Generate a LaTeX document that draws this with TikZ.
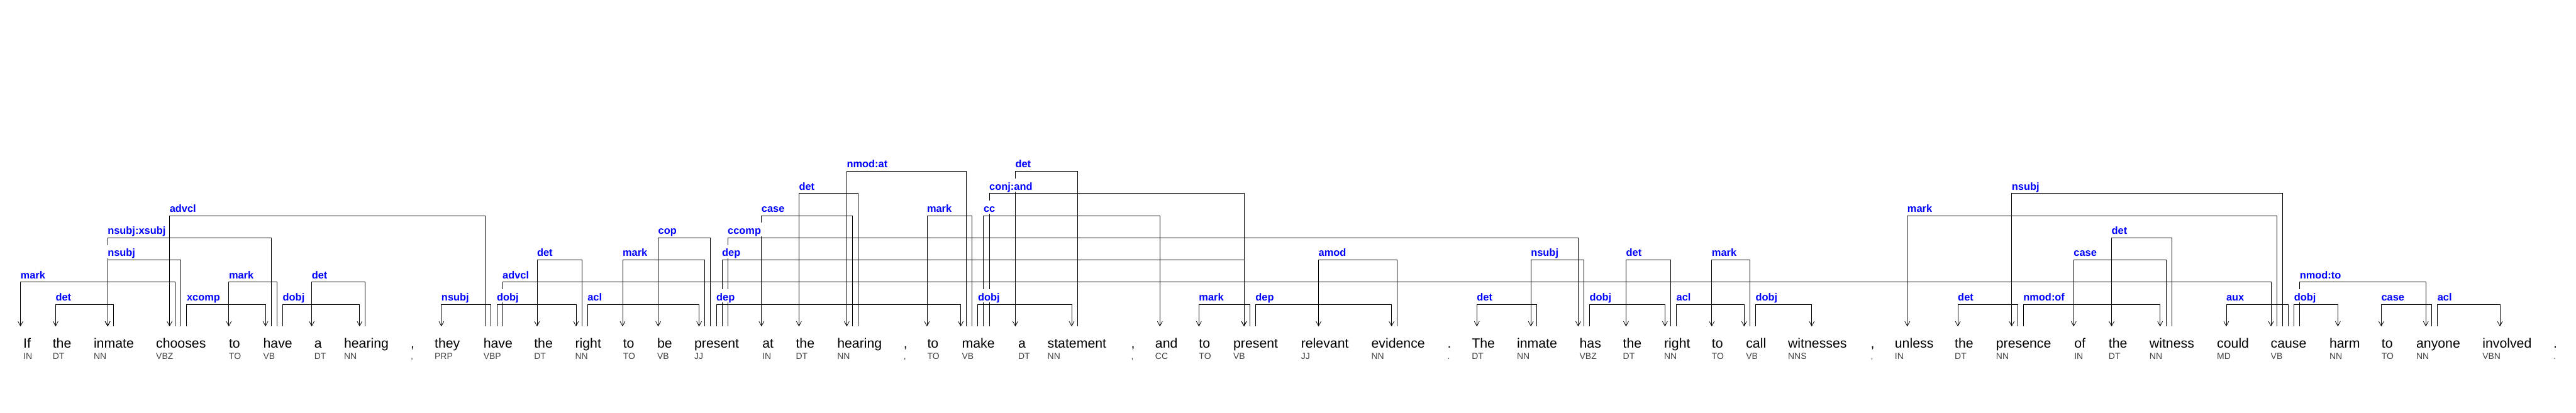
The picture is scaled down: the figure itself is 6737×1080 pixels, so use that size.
\documentclass[tikz,border=0pt]{standalone}
\usepackage{fontspec}
\setmainfont{Liberation Sans}
\usetikzlibrary{arrows.meta}
\pgfdeclarelayer{fg}
\pgfsetlayers{main,fg}
\definecolor{lblblue}{RGB}{0,0,255}
\definecolor{tagc}{RGB}{64,64,64}
\tikzset{
 wordtext/.style={anchor=base west, inner sep=0pt, font=\fontsize{35}{40}\selectfont, text=black},
 tagtext/.style={anchor=base west, inner sep=0pt, font=\fontsize{23}{26}\selectfont, text=tagc},
 deparc/.style={draw=black, line width=1.3pt, -{Straight Barb[length=12pt, width=13pt, line width=1.3pt]}},
 deplabel/.style={anchor=base west, inner xsep=1pt, inner ysep=0pt, xshift=-1pt, fill=white, text=lblblue, font=\fontsize{27}{30}\selectfont\bfseries, text height=30pt, text depth=5pt},
}
\newcommand\deptoken[4]{%
  \node[wordtext] (#1) at (#2,-910.8) {#3};
  \node[tagtext] (#1t) at (#2,-940.4) {#4};}
\newcommand\depedge[5]{%
  \coordinate (#1s) at (#3,-854.2);
  \coordinate (#1d) at (#4,-854.2);
  \draw[deparc] (#1s) -- ++(0,58*#5) -| (#1d);
  \pgfmathsetmacro\depxl{min(#3,#4)}
  \pgfmathsetmacro\depyl{-854.2+58*#5+9.3}
  \begin{pgfonlayer}{fg}
    \node[deplabel] (#1l) at (\depxl,\depyl) {#2};
  \end{pgfonlayer}}
\begin{document}
\begin{tikzpicture}[x=1pt,y=1pt]
\useasboundingbox (0,0) rectangle (6737,-1080);
\fill[white] (0,0) rectangle (6737,-1080);
% tokens
\deptoken{w1}{61.0}{If}{IN}
\deptoken{w2}{137.6}{the}{DT}
\deptoken{w3}{244.9}{inmate}{NN}
\deptoken{w4}{408.0}{chooses}{VBZ}
\deptoken{w5}{598.5}{to}{TO}
\deptoken{w6}{688.4}{have}{VB}
\deptoken{w7}{821.9}{a}{DT}
\deptoken{w8}{899.6}{hearing}{NN}
\deptoken{w9}{1074.2}{,}{,}
\deptoken{w10}{1136.6}{they}{PRP}
\deptoken{w11}{1264.3}{have}{VBP}
\deptoken{w12}{1396.7}{the}{DT}
\deptoken{w13}{1504.0}{right}{NN}
\deptoken{w14}{1629.4}{to}{TO}
\deptoken{w15}{1718.8}{be}{VB}
\deptoken{w16}{1815.8}{present}{JJ}
\deptoken{w17}{1993.7}{at}{IN}
\deptoken{w18}{2081.3}{the}{DT}
\deptoken{w19}{2189.4}{hearing}{NN}
\deptoken{w20}{2363.2}{,}{,}
\deptoken{w21}{2425.0}{to}{TO}
\deptoken{w22}{2515.6}{make}{VB}
\deptoken{w23}{2662.8}{a}{DT}
\deptoken{w24}{2739.4}{statement}{NN}
\deptoken{w25}{2958.3}{,}{,}
\deptoken{w26}{3021.2}{and}{CC}
\deptoken{w27}{3135.5}{to}{TO}
\deptoken{w28}{3225.4}{present}{VB}
\deptoken{w29}{3402.5}{relevant}{JJ}
\deptoken{w30}{3586.4}{evidence}{NN}
\deptoken{w31}{3785.4}{.}{.}
\deptoken{w32}{3849.0}{The}{DT}
\deptoken{w33}{3967.0}{inmate}{NN}
\deptoken{w34}{4130.8}{has}{VBZ}
\deptoken{w35}{4244.4}{the}{DT}
\deptoken{w36}{4352.0}{right}{NN}
\deptoken{w37}{4476.7}{to}{TO}
\deptoken{w38}{4566.2}{call}{VB}
\deptoken{w39}{4676.0}{witnesses}{NNS}
\deptoken{w40}{4892.4}{,}{,}
\deptoken{w41}{4955.3}{unless}{IN}
\deptoken{w42}{5112.1}{the}{DT}
\deptoken{w43}{5220.1}{presence}{NN}
\deptoken{w44}{5424.7}{of}{IN}
\deptoken{w45}{5514.6}{the}{DT}
\deptoken{w46}{5621.5}{witness}{NN}
\deptoken{w47}{5797.9}{could}{MD}
\deptoken{w48}{5938.5}{cause}{VB}
\deptoken{w49}{6092.0}{harm}{NN}
\deptoken{w50}{6228.4}{to}{TO}
\deptoken{w51}{6319.1}{anyone}{NN}
\deptoken{w52}{6492.2}{involved}{VBN}
\deptoken{w53}{6677.9}{.}{.}
% edges: name, label, head x, dependent x (arrow), level
\depedge{e1}{mark}{458.3}{53.6}{2}
\depedge{e2}{det}{296.3}{145.4}{1}
\depedge{e3}{nsubj}{473.5}{281.5}{3}
\depedge{e4}{nsubj:xsubj}{709.4}{281.5}{4}
\depedge{e5}{advcl}{1269.4}{443.5}{5}
\depedge{e6}{xcomp}{488.3}{694.3}{1}
\depedge{e7}{mark}{724.2}{598.5}{2}
\depedge{e8}{dobj}{739.4}{940.6}{1}
\depedge{e9}{det}{955.4}{815.2}{2}
\depedge{e10}{nsubj}{1284.2}{1154.4}{1}
\depedge{e11}{dobj}{1299.4}{1506.5}{1}
\depedge{e12}{advcl}{1314.2}{5939.2}{2}
\depedge{e13}{det}{1521.3}{1404.5}{3}
\depedge{e14}{acl}{1536.5}{1828.3}{1}
\depedge{e15}{mark}{1843.1}{1628.2}{3}
\depedge{e16}{cop}{1858.3}{1721.4}{4}
\depedge{e17}{dep}{1873.5}{2512.6}{1}
\depedge{e18}{dep}{1888.3}{3253.5}{3}
\depedge{e19}{ccomp}{1903.1}{4127.5}{4}
\depedge{e20}{case}{2229.3}{1991.5}{5}
\depedge{e21}{det}{2244.5}{2089.5}{6}
\depedge{e22}{nmod:at}{2527.4}{2214.5}{7}
\depedge{e23}{mark}{2542.2}{2424.2}{5}
\depedge{e24}{dobj}{2557.4}{2802.6}{1}
\depedge{e25}{cc}{2572.2}{3033.4}{5}
\depedge{e26}{conj:and}{2587.3}{3253.5}{6}
\depedge{e27}{det}{2817.4}{2655.4}{7}
\depedge{e28}{mark}{3268.3}{3135.5}{1}
\depedge{e29}{dep}{3283.5}{3639.3}{1}
\depedge{e30}{amod}{3654.4}{3448.4}{3}
\depedge{e31}{det}{4018.4}{3862.3}{1}
\depedge{e32}{nsubj}{4142.3}{4003.6}{3}
\depedge{e33}{dobj}{4157.1}{4354.3}{1}
\depedge{e34}{det}{4369.4}{4252.5}{3}
\depedge{e35}{acl}{4384.2}{4561.4}{1}
\depedge{e36}{mark}{4576.5}{4476.7}{3}
\depedge{e37}{dobj}{4591.3}{4738.2}{1}
\depedge{e38}{mark}{5954.7}{4988.2}{5}
\depedge{e39}{det}{5276.4}{5120.3}{1}
\depedge{e40}{nsubj}{5969.5}{5261.2}{6}
\depedge{e41}{nmod:of}{5291.5}{5649.2}{1}
\depedge{e42}{case}{5664.7}{5423.2}{3}
\depedge{e43}{det}{5679.5}{5522.4}{4}
\depedge{e44}{aux}{5984.7}{5822.3}{1}
\depedge{e45}{dobj}{5999.5}{6114.2}{1}
\depedge{e46}{nmod:to}{6014.3}{6344.2}{2}
\depedge{e47}{case}{6359.4}{6227.7}{1}
\depedge{e48}{acl}{6374.5}{6538.0}{1}
\end{tikzpicture}
\end{document}
